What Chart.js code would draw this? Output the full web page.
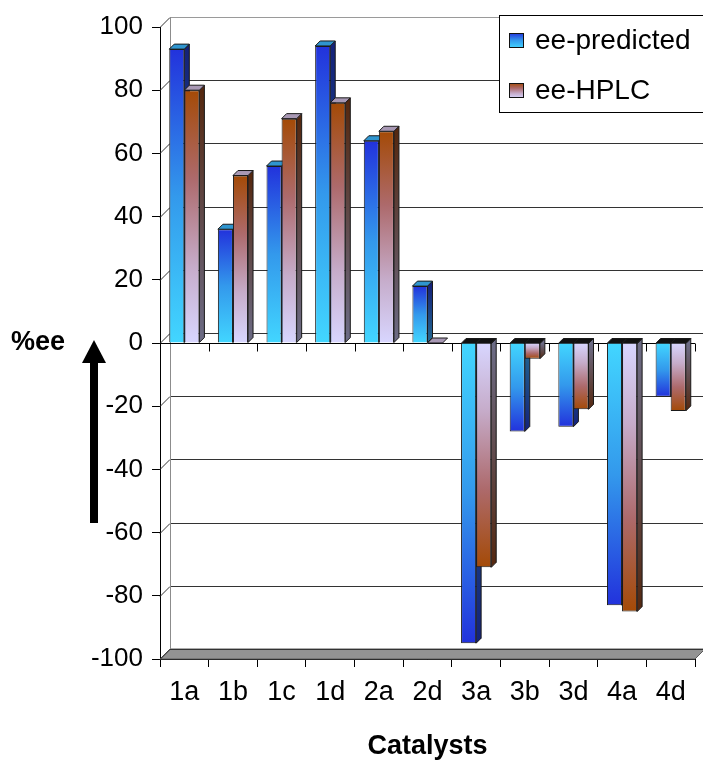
<!DOCTYPE html>
<html>
<head>
<meta charset="utf-8">
<script src="https://cdn.jsdelivr.net/npm/chart.js@4.4.1/dist/chart.umd.min.js"></script>
<style>
  html, body { margin: 0; padding: 0; background: #ffffff; }
  #wrap { width: 703px; height: 765px; }
</style>
</head>
<body>
<div id="wrap"><canvas id="chart" width="703" height="765"></canvas></div>
<script>
// Catalysts and their enantiomeric excess (%ee)
const categories = ['1a', '1b', '1c', '1d', '2a', '2d', '3a', '3b', '3d', '4a', '4d'];
const eePredicted = [93, 36, 56, 94, 64, 18, -95, -28, -26.5, -83, -17];
const eeHPLC = [80, 53, 71, 76, 67, 0, -71, -5, -21, -85, -21.5];
const yTickValues = [100, 80, 60, 40, 20, 0, -20, -40, -60, -80, -100];
const seriesNames = ['ee-predicted', 'ee-HPLC'];

const FONT = "'Liberation Sans', Arial, sans-serif";
const WALL_DX = 10, WALL_DY = 10;   // depth of the back wall
const BAR_D = 5;                    // depth of each column

// colour ramps: offset 0 = value end of the column, 1 = zero end
const predFront = [[0, '#2232dc'], [0.5, '#3399ec'], [1, '#42d6ff']];
const hplcFront = [[0, '#a44a06'], [0.35, '#ad6a6c'], [0.7, '#c6acca'], [1, '#d8d6ff']];
const predSide = [[0, '#14227a'], [1, '#236a92']];
const hplcSide = [[0, '#552810'], [1, '#6c6c86']];
const predTop = '#2f95cf';
const hplcTop = '#a898b4';

function ramp(ctx2d, yFrom, yTo, stops) {
  if (!isFinite(yFrom) || !isFinite(yTo) || Math.abs(yFrom - yTo) < 0.5) {
    return stops[stops.length - 1][1];
  }
  const g = ctx2d.createLinearGradient(0, yFrom, 0, yTo);
  stops.forEach(([o, c]) => g.addColorStop(o, c));
  return g;
}

function frontFill(stops) {
  return (c) => {
    const y = c.chart.scales.y;
    if (c.type !== 'data' || !y) return stops[0][1];
    return ramp(c.chart.ctx, y.getPixelForValue(c.raw), y.getPixelForValue(0), stops);
  };
}

const depthPlugin = {
  id: 'depth',
  beforeDatasetsDraw(chart) {
    const { ctx, chartArea: a, scales: { y } } = chart;
    ctx.save();
    const yBottom = y.getPixelForValue(-100);
    const yTop = y.getPixelForValue(100);

    // floor
    ctx.beginPath();
    ctx.moveTo(a.left, yBottom);
    ctx.lineTo(a.left + WALL_DX, yBottom - WALL_DY);
    ctx.lineTo(a.right + WALL_DX, yBottom - WALL_DY);
    ctx.lineTo(a.right, yBottom);
    ctx.closePath();
    ctx.fillStyle = '#939393';
    ctx.fill();
    ctx.strokeStyle = '#5a5a5a';
    ctx.lineWidth = 1;
    ctx.stroke();

    // back wall gridlines and the diagonals joining them to the front axis
    yTickValues.forEach((v) => {
      const py = Math.round(y.getPixelForValue(v)) + 0.5;
      ctx.strokeStyle = v === 100 ? '#9a9a9a' : '#333333';
      ctx.beginPath();
      ctx.moveTo(a.left + WALL_DX, py - WALL_DY);
      ctx.lineTo(a.right + WALL_DX, py - WALL_DY);
      ctx.stroke();
      ctx.strokeStyle = '#333333';
      ctx.beginPath();
      ctx.moveTo(a.left, py);
      ctx.lineTo(a.left + WALL_DX, py - WALL_DY);
      ctx.stroke();
    });

    // back wall left edge
    ctx.strokeStyle = '#8c8c8c';
    ctx.beginPath();
    ctx.moveTo(a.left + WALL_DX + 0.5, yTop - WALL_DY);
    ctx.lineTo(a.left + WALL_DX + 0.5, yBottom - WALL_DY);
    ctx.stroke();

    // category axis line through zero
    const y0 = Math.round(y.getPixelForValue(0)) + 0.5;
    ctx.strokeStyle = '#000000';
    ctx.beginPath();
    ctx.moveTo(a.left, y0);
    ctx.lineTo(a.right, y0);
    const step = (a.right - a.left) / categories.length;
    for (let i = 0; i <= categories.length; i++) {
      const px = Math.round(a.left + i * step) + 0.5;
      ctx.moveTo(px, y0);
      ctx.lineTo(px, y0 + 8);
    }
    ctx.stroke();

    // side and top faces of the columns
    const sides = [predSide, hplcSide];
    const tops = [predTop, hplcTop];
    chart.data.datasets.forEach((ds, di) => {
      const meta = chart.getDatasetMeta(di);
      meta.data.forEach((el, i) => {
        const p = el.getProps(['x', 'y', 'base', 'width'], true);
        const v = ds.data[i];
        const l = p.x - p.width / 2, r = p.x + p.width / 2;
        const t = Math.min(p.y, p.base), b = Math.max(p.y, p.base);
        ctx.strokeStyle = '#1a1a1a';
        ctx.lineWidth = 1;
        if (b - t > 0.5) {
          ctx.beginPath();
          ctx.moveTo(r, t);
          ctx.lineTo(r + BAR_D, t - BAR_D);
          ctx.lineTo(r + BAR_D, b - BAR_D);
          ctx.lineTo(r, b);
          ctx.closePath();
          ctx.fillStyle = ramp(ctx, p.y, p.base, sides[di]);
          ctx.fill();
          ctx.stroke();
        }
        ctx.beginPath();
        ctx.moveTo(l, t);
        ctx.lineTo(l + BAR_D, t - BAR_D);
        ctx.lineTo(r + BAR_D, t - BAR_D);
        ctx.lineTo(r, t);
        ctx.closePath();
        ctx.fillStyle = v < 0 ? '#111111' : tops[di];
        ctx.fill();
        ctx.stroke();
      });
    });
    ctx.restore();
  },
  afterDraw(chart) {
    const { ctx } = chart;
    ctx.save();

    // axis caption and arrow
    ctx.fillStyle = '#000000';
    ctx.font = 'bold 27px ' + FONT;
    ctx.textAlign = 'left';
    ctx.textBaseline = 'middle';
    ctx.fillText('%ee', 11, 343);
    ctx.fillRect(90, 361, 8, 162);
    ctx.beginPath();
    ctx.moveTo(82, 363);
    ctx.lineTo(94, 340);
    ctx.lineTo(106, 363);
    ctx.closePath();
    ctx.fill();

    // legend
    ctx.fillStyle = '#ffffff';
    ctx.fillRect(499.5, 15.5, 210, 97);
    ctx.strokeStyle = '#000000';
    ctx.lineWidth = 1;
    ctx.strokeRect(499.5, 15.5, 210, 97);
    const rows = [
      { y: 33, stops: predFront },
      { y: 83, stops: hplcFront }
    ];
    rows.forEach((row, i) => {
      ctx.fillStyle = ramp(ctx, row.y, row.y + 15, row.stops);
      ctx.fillRect(509.5, row.y + 0.5, 14, 14);
      ctx.strokeStyle = '#111111';
      ctx.strokeRect(509.5, row.y + 0.5, 14, 14);
      ctx.fillStyle = '#000000';
      ctx.font = '28px ' + FONT;
      ctx.textBaseline = 'middle';
      ctx.fillText(seriesNames[i], 535, row.y + 8);
    });
    ctx.restore();
  }
};

new Chart(document.getElementById('chart'), {
  type: 'bar',
  data: {
    labels: categories,
    datasets: [
      {
        label: seriesNames[0],
        data: eePredicted,
        backgroundColor: frontFill(predFront),
        borderColor: '#1a1a1a',
        borderWidth: 1,
        categoryPercentage: 0.62,
        barPercentage: 1.0
      },
      {
        label: seriesNames[1],
        data: eeHPLC,
        backgroundColor: frontFill(hplcFront),
        borderColor: '#1a1a1a',
        borderWidth: 1,
        categoryPercentage: 0.62,
        barPercentage: 1.0
      }
    ]
  },
  options: {
    responsive: false,
    animation: false,
    devicePixelRatio: 1,
    layout: { padding: { top: 27, right: 8, left: 0, bottom: 0 } },
    plugins: {
      legend: { display: false },
      tooltip: { enabled: false }
    },
    scales: {
      x: {
        grid: { offset: true, drawOnChartArea: false, drawTicks: true, tickLength: 8, color: '#000000' },
        border: { display: true, color: '#000000' },
        ticks: { color: '#000000', font: { family: FONT, size: 27 }, padding: 9, maxRotation: 0 },
        title: {
          display: true,
          text: 'Catalysts',
          color: '#000000',
          font: { family: FONT, size: 27, weight: 'bold' },
          padding: { top: 0, bottom: 2 }
        },
        afterFit: (s) => { s.height = 106; }
      },
      y: {
        min: -100,
        max: 100,
        afterBuildTicks: (s) => { s.ticks = yTickValues.map((v) => ({ value: v })); },
        grid: { drawOnChartArea: false, drawTicks: true, tickLength: 8, color: '#000000' },
        border: { display: true, color: '#000000' },
        ticks: { color: '#000000', font: { family: FONT, size: 26 }, padding: 9 },
        afterFit: (s) => { s.width = 160; }
      }
    }
  },
  plugins: [depthPlugin]
});
</script>
</body>
</html>
